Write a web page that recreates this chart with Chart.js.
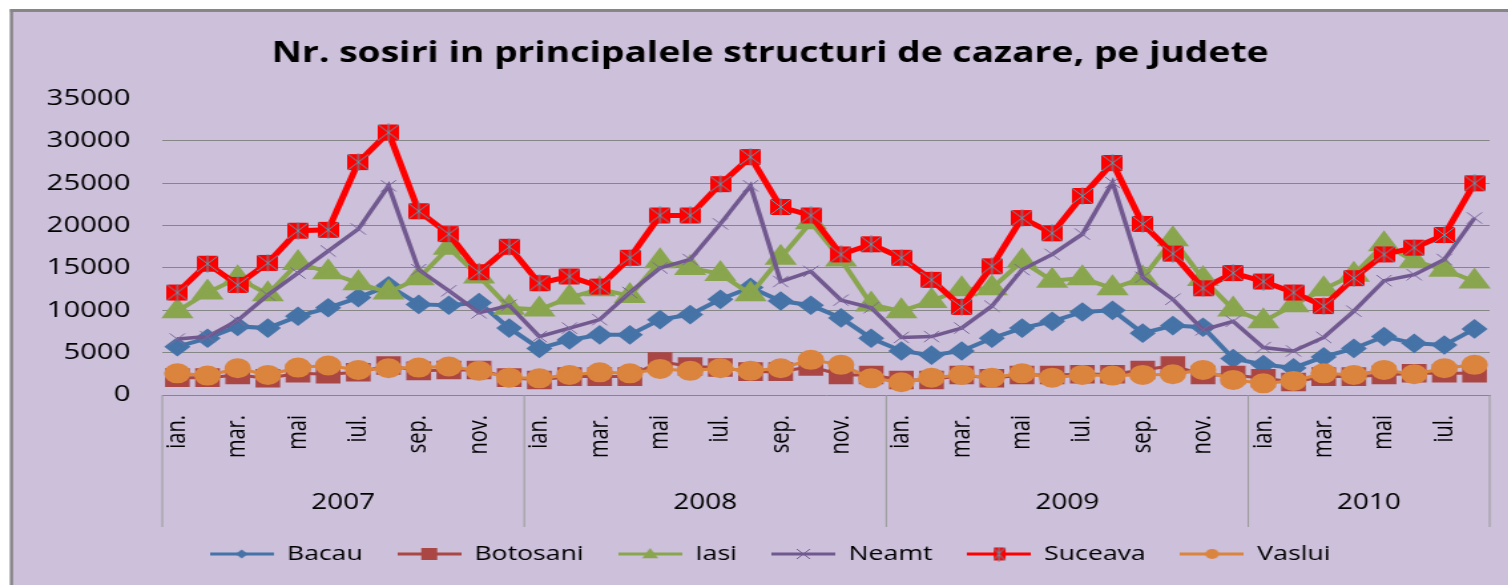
<!DOCTYPE html>
<html>
<head>
<meta charset="utf-8">
<script src="https://cdn.jsdelivr.net/npm/chart.js@4.4.0/dist/chart.umd.min.js"></script>
<style>
  html, body { margin: 0; padding: 0; background: #fff; overflow: hidden; width: 1508px; height: 585px; }
  /* the reference picture is stretched sideways, so the canvas is too */
  #wrap { width: 1134px; height: 585px; transform: scaleX(1.33); transform-origin: 0 0; }
</style>
</head>
<body>
<div id="wrap"><canvas id="sosiri-chart" width="1134" height="585"></canvas></div>
<script>
const months = ["ian.", "feb.", "mar.", "apr.", "mai", "iun.", "iul.", "aug.", "sep.", "oct.", "nov.", "dec."];
const years = ["2007", "2008", "2009", "2010"];
const monthsPerYear = [12, 12, 12, 8];

const bacau = [5700, 6700, 8100, 7900, 9300, 10300, 11500, 12900, 10700, 10600, 10900, 7900,
  5500, 6500, 7100, 7100, 8900, 9500, 11300, 12700, 11100, 10600, 9100, 6700,
  5200, 4700, 5200, 6700, 7900, 8700, 9800, 10000, 7300, 8200, 8000, 4300,
  3600, 3200, 4500, 5500, 6900, 6100, 5900, 7800];
const botosani = [2050, 2050, 2370, 1970, 2560, 2450, 2680, 3480, 2850, 2960, 2960, 2050,
  1780, 2170, 2170, 2170, 3950, 3360, 3240, 2760, 2760, 3360, 2370, 2370,
  1780, 1780, 2370, 1970, 2370, 2370, 2450, 2450, 2960, 3480, 2370, 2370,
  1970, 1540, 2170, 2170, 2370, 2560, 2560, 2560];
const iasi = [9900, 12100, 13800, 11900, 15600, 14500, 13200, 12100, 13800, 17400, 14000, 10300,
  10100, 11500, 12500, 11700, 15800, 15000, 14300, 11900, 16200, 20400, 16000, 10700,
  9900, 11100, 12500, 12600, 15800, 13500, 13800, 12600, 13800, 18400, 13700, 10100,
  8700, 10600, 12500, 14200, 17800, 15800, 14800, 13400];
const neamt = [6600, 6900, 8800, 11800, 14400, 17000, 19600, 24700, 14800, 12300, 9700, 10600,
  6900, 7900, 8900, 12100, 15000, 16000, 20200, 24700, 13400, 14600, 11200, 10300,
  6800, 6900, 7900, 10500, 14800, 16600, 19000, 25100, 13900, 11300, 7700, 8700,
  5600, 5200, 6800, 9900, 13500, 14200, 16000, 20900];
const suceava = [12100, 15500, 13000, 15600, 19400, 19500, 27500, 31000, 21700, 19000, 14500, 17500,
  13200, 14000, 12800, 16200, 21200, 21200, 24900, 28100, 22200, 21200, 16600, 17800,
  16200, 13600, 10400, 15200, 20900, 19100, 23500, 27400, 20200, 16700, 12600, 14400,
  13400, 12100, 10500, 13800, 16600, 17400, 18900, 25000];
const vaslui = [2560, 2290, 3160, 2370, 3240, 3480, 2960, 3160, 3240, 3360, 2850, 2050,
  1970, 2370, 2680, 2560, 3080, 2850, 3160, 2850, 3160, 4150, 3560, 1970,
  1500, 2050, 2370, 2050, 2560, 2050, 2370, 2290, 2370, 2450, 2960, 1780,
  1380, 1660, 2560, 2370, 2960, 2450, 3160, 3560];

const labels = [];
years.forEach((y, k) => {
  for (let m = 0; m < monthsPerYear[k]; m++) labels.push(months[m]);
});

// red square with a teal star on top, as in the Excel marker
function suceavaMarker(w, h) {
  const c = document.createElement("canvas");
  c.width = w; c.height = h + 2;
  const g = c.getContext("2d");
  g.fillStyle = "#ff0000";
  g.fillRect(0, 1, w, h);
  g.strokeStyle = "#4aa3b8";
  g.lineWidth = 1;
  g.beginPath();
  g.moveTo(0, 1); g.lineTo(w, h + 1);
  g.moveTo(w, 1); g.lineTo(0, h + 1);
  g.moveTo(w / 2, 0); g.lineTo(w / 2, h + 2);
  g.stroke();
  return c;
}

function drawMarker(g, style, r, x, y, color) {
  g.fillStyle = color;
  g.strokeStyle = color;
  g.beginPath();
  if (style === "rectRot") {
    g.moveTo(x, y - r); g.lineTo(x + r, y); g.lineTo(x, y + r); g.lineTo(x - r, y);
    g.closePath(); g.fill();
  } else if (style === "rect") {
    g.fillRect(x - r, y - r, 2 * r, 2 * r);
  } else if (style === "triangle") {
    g.moveTo(x, y - r); g.lineTo(x + r, y + r * 0.7); g.lineTo(x - r, y + r * 0.7);
    g.closePath(); g.fill();
  } else if (style === "crossRot") {
    g.lineWidth = 1;
    g.moveTo(x - r, y - r); g.lineTo(x + r, y + r);
    g.moveTo(x + r, y - r); g.lineTo(x - r, y + r);
    g.stroke();
  } else if (style === "circle") {
    g.arc(x, y, r, 0, Math.PI * 2); g.fill();
  }
}

function legendIcon(ds) {
  const c = document.createElement("canvas");
  c.width = 48; c.height = 20;
  const g = c.getContext("2d");
  g.strokeStyle = ds.borderColor;
  g.lineWidth = 3;
  g.beginPath(); g.moveTo(0, 10); g.lineTo(48, 10); g.stroke();
  if (ds.legendMarker === "suceava") {
    const m = suceavaMarker(9, 13);
    g.drawImage(m, 24 - 4.5, 10 - 7.5);
  } else {
    drawMarker(g, ds.pointStyle, ds.legendRadius, 24, 10, ds.pointBackgroundColor);
  }
  return c;
}

const datasets = [
  { label: "Bacau", data: bacau, borderColor: "#4573a7", pointBackgroundColor: "#4573a7", pointBorderColor: "#4573a7",
    borderWidth: 4, pointStyle: "rectRot", pointRadius: 7, legendRadius: 4.5, order: 6 },
  { label: "Botosani", data: botosani, borderColor: "#aa4643", pointBackgroundColor: "#aa4643", pointBorderColor: "#aa4643",
    borderWidth: 3, pointStyle: "rect", pointRadius: 11, legendRadius: 6, order: 5 },
  { label: "Iasi", data: iasi, borderColor: "#89a54e", pointBackgroundColor: "#89a54e", pointBorderColor: "#89a54e",
    borderWidth: 4, pointStyle: "triangle", pointRadius: 10, legendRadius: 6, order: 4 },
  { label: "Neamt", data: neamt, borderColor: "#71588f", pointBackgroundColor: "#71588f", pointBorderColor: "#7d68a0",
    borderWidth: 3.5, pointStyle: "crossRot", pointRadius: 8, pointBorderWidth: 1, legendRadius: 5, order: 3 },
  { label: "Suceava", data: suceava, borderColor: "#ff0000", pointBackgroundColor: "#ff0000", pointBorderColor: "#ff0000",
    borderWidth: 5, pointStyle: suceavaMarker(16, 16), pointRadius: 8, legendMarker: "suceava", order: 2 },
  { label: "Vaslui", data: vaslui, borderColor: "#db843d", pointBackgroundColor: "#db843d", pointBorderColor: "#db843d",
    borderWidth: 3, pointStyle: "circle", pointRadius: 8.5, legendRadius: 5, order: 1 },
];
const legendIcons = datasets.map(legendIcon);

const frame = {
  id: "frame",
  beforeDraw(chart) {
    const ctx = chart.ctx;
    ctx.save();
    ctx.fillStyle = "#ffffff";
    ctx.fillRect(0, 0, chart.width, chart.height);
    ctx.fillStyle = "#ccc0da";
    ctx.fillRect(7.5, 10, chart.width, chart.height);
    ctx.fillStyle = "#868686";
    ctx.fillRect(7.5, 9, chart.width, 3);
    ctx.fillRect(7.5, 9, 2.3, chart.height);
    ctx.restore();
  },
};

const yearAxis = {
  id: "yearAxis",
  afterDraw(chart) {
    const ctx = chart.ctx;
    const x = chart.scales.x;
    const bottom = chart.chartArea.bottom;
    ctx.save();
    ctx.strokeStyle = "#9a9a9a";
    ctx.lineWidth = 1;
    ctx.fillStyle = "#000";
    ctx.font = "21px 'Open Sans'";
    ctx.textAlign = "center";
    ctx.textBaseline = "middle";
    let start = 0;
    years.forEach((y, k) => {
      const left = x.getPixelForValue(start - 0.5);
      const right = x.getPixelForValue(start + monthsPerYear[k] - 0.5);
      ctx.beginPath();
      ctx.moveTo(left, bottom); ctx.lineTo(left, bottom + 132);
      if (k === years.length - 1) { ctx.moveTo(right, bottom); ctx.lineTo(right, bottom + 132); }
      ctx.stroke();
      ctx.fillText(y, (left + right) / 2, bottom + 108);
      start += monthsPerYear[k];
    });
    ctx.restore();
  },
};

new Chart(document.getElementById("sosiri-chart"), {
  type: "line",
  data: { labels: labels, datasets: datasets },
  options: {
    responsive: false,
    animation: false,
    devicePixelRatio: 1,
    layout: { padding: { top: 10, right: 9, bottom: 11, left: 33 } },
    scales: {
      x: {
        offset: true,
        grid: { display: false, drawTicks: false },
        border: { display: true, color: "#868686", width: 1 },
        ticks: {
          autoSkip: false,
          minRotation: 90,
          maxRotation: 90,
          padding: 20,
          color: "#000",
          font: { family: "'Open Sans'", size: 20 },
          callback: (value, i) => (i % 2 === 0 ? labels[i] : ""),
        },
        afterFit: (scale) => {
          scale.height = 123;
          scale.paddingLeft = 0;
          scale.paddingRight = 0;
        },
      },
      y: {
        min: 0,
        max: 35000,
        ticks: {
          stepSize: 5000,
          padding: 24,
          color: "#000",
          font: { family: "'Open Sans'", size: 22 },
          callback: (v) => String(v),
        },
        grid: {
          drawTicks: false,
          color: (c) => (c.tick && (c.tick.value === 0 || c.tick.value === 35000) ? "rgba(0,0,0,0)" : "#868686"),
        },
        border: { display: false },
        afterFit: (scale) => { scale.width = 89; },
      },
    },
    plugins: {
      title: {
        display: true,
        text: "Nr. sosiri in principalele structuri de cazare, pe judete",
        color: "#000",
        font: { family: "'Open Sans'", size: 28, weight: "bold" },
        padding: { top: 27, bottom: 28 },
      },
      legend: {
        position: "bottom",
        labels: {
          usePointStyle: true,
          pointStyleWidth: 48,
          padding: 26,
          color: "#000",
          font: { family: "'Open Sans'", size: 20 },
          sort: (a, b) => a.datasetIndex - b.datasetIndex,
          generateLabels: (chart) => {
            const items = Chart.defaults.plugins.legend.labels.generateLabels(chart);
            items.forEach((it) => { it.pointStyle = legendIcons[it.datasetIndex]; });
            return items;
          },
        },
      },
      tooltip: { enabled: false },
    },
  },
  plugins: [frame, yearAxis],
});
</script>
</body>
</html>
